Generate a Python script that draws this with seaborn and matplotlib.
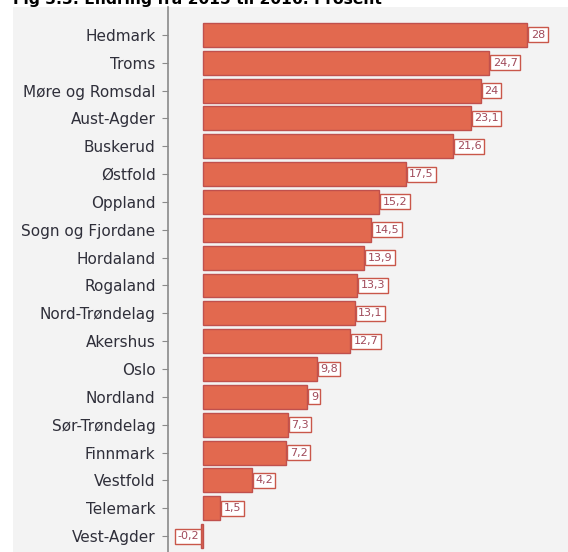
import matplotlib
matplotlib.use('Agg')
import matplotlib.pyplot as plt
import seaborn as sns
import pandas as pd
from matplotlib.patches import Rectangle

# Data
counties = ['Hedmark', 'Troms', 'Møre og Romsdal', 'Aust-Agder', 'Buskerud', 'Østfold',
            'Oppland', 'Sogn og Fjordane', 'Hordaland', 'Rogaland', 'Nord-Trøndelag',
            'Akershus', 'Oslo', 'Nordland', 'Sør-Trøndelag', 'Finnmark', 'Vestfold',
            'Telemark', 'Vest-Agder']
change = [28, 24.7, 24, 23.1, 21.6, 17.5, 15.2, 14.5, 13.9, 13.3, 13.1, 12.7,
          9.8, 9, 7.3, 7.2, 4.2, 1.5, -0.2]

df = pd.DataFrame({'fylke': counties, 'endring': change})

sns.set_style('white')
plt.rcParams['font.family'] = ['DejaVu Sans']

fig = plt.figure(figsize=(5.68, 5.52), dpi=100, facecolor='white')
# grey panel behind the chart
fig.patches.append(Rectangle((13 / 568, 0), 1, 545 / 552, transform=fig.transFigure,
                             facecolor='#f3f3f3', edgecolor='none', zorder=-5))
# title is cut off at the top edge, as in the source image
fig.text(13 / 568, 1 - 4 / 552, 'Fig 3.3: Endring fra 2015 til 2016. Prosent',
         fontsize=11.2, fontweight='bold', va='baseline', ha='left', color='black')

ax = fig.add_axes([168 / 568, 0, 400 / 568, 545 / 552])
ax.set_facecolor('none')

sns.barplot(data=df, x='endring', y='fylke', orient='h', color='#e2694f',
            edgecolor='#c0504d', linewidth=1, width=0.86, ax=ax, saturation=1)

for i, v in enumerate(change):
    label = f'{v:g}'.replace('.', ',')
    if v >= 0:
        ax.annotate(label, (v, i), xytext=(2.5, 0), textcoords='offset points',
                    ha='left', va='center', fontsize=8, color='#a04a5a',
                    bbox=dict(boxstyle='square,pad=0.22', facecolor='white',
                              edgecolor='#c9574a', linewidth=1))
    else:
        ax.annotate(label, (0, i), xytext=(-3, 0), textcoords='offset points',
                    ha='right', va='center', fontsize=8, color='#a04a5a',
                    bbox=dict(boxstyle='square,pad=0.22', facecolor='white',
                              edgecolor='#c9574a', linewidth=1))

ax.set_xlim(-3.02, 31.5)
ax.set_ylim(18.57, -1.0)
ax.set_xlabel('')
ax.set_ylabel('')
ax.set_xticks([])
for s in ['top', 'right', 'bottom']:
    ax.spines[s].set_visible(False)
ax.spines['left'].set_color('#8a8a8a')
ax.spines['left'].set_linewidth(1.2)
ax.tick_params(axis='y', length=4, width=0.8, color='#8a8a8a', pad=5,
               labelsize=11, labelcolor='#2f2f3a', left=True)

fig.savefig('out.png', dpi=100, facecolor=fig.get_facecolor())
